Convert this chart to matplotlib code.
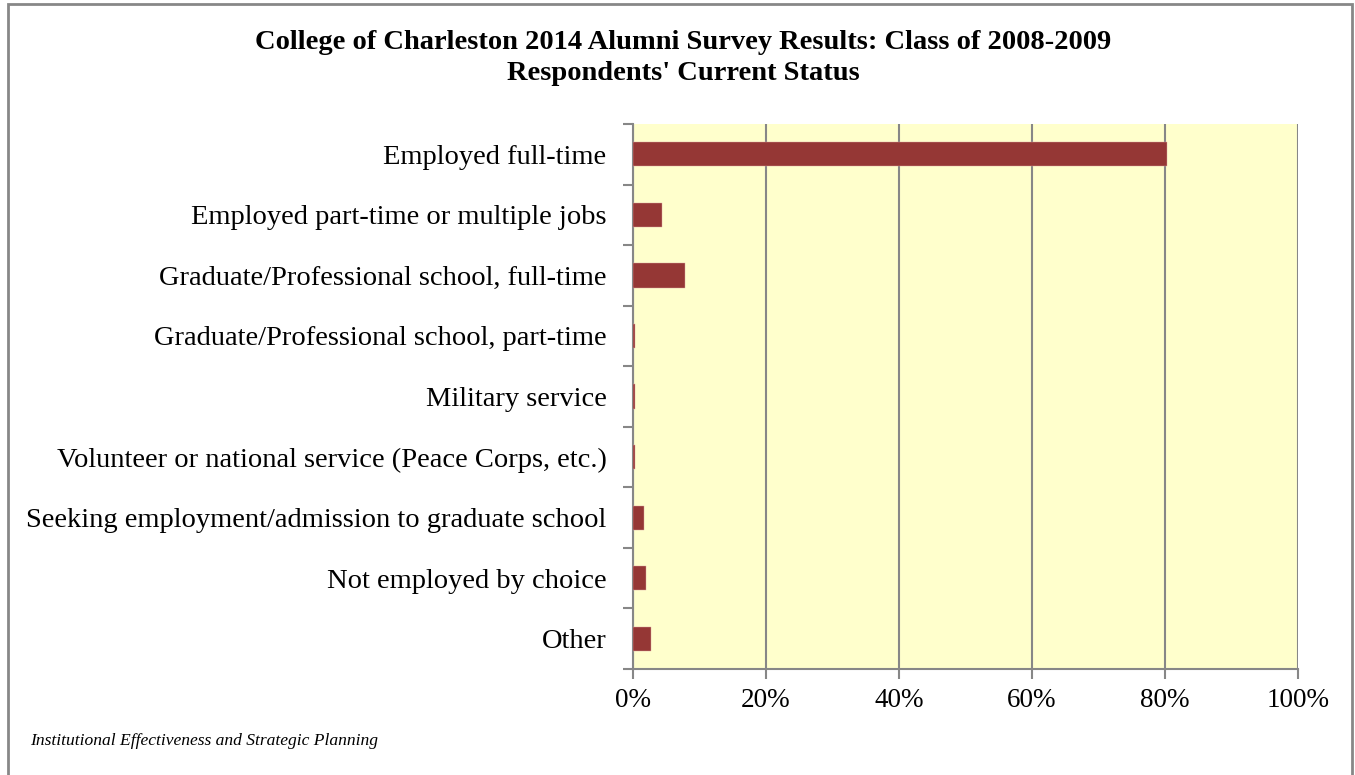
import matplotlib
matplotlib.use("Agg")
import matplotlib.pyplot as plt
import matplotlib.ticker as mticker
from matplotlib.patches import Rectangle

# data (share of respondents, %)
categories = [
    "Employed full-time",
    "Employed part-time or multiple jobs",
    "Graduate/Professional school, full-time",
    "Graduate/Professional school, part-time",
    "Military service",
    "Volunteer or national service (Peace Corps, etc.)",
    "Seeking employment/admission to graduate school",
    "Not employed by choice",
    "Other",
]
shares = [80.3, 4.4, 7.8, 0.3, 0.3, 0.3, 1.7, 2.0, 2.7]
x_ticks = [0, 20, 40, 60, 80, 100]

plt.rcParams["font.family"] = ["Liberation Serif", "DejaVu Serif"]

fig = plt.figure(figsize=(13.55, 7.75), dpi=100)
ax = fig.add_axes([633 / 1355, 1 - 669 / 775, 665 / 1355, 545 / 775])

ypos = list(range(len(categories)))
ax.barh(ypos, shares, height=0.4, color="#953735", edgecolor="#D9A3A2",
        linewidth=0.3, zorder=3)

ax.set_facecolor("#FFFFCC")
ax.set_xlim(0, 100)
ax.set_ylim(len(categories) - 0.5, -0.5)

ax.set_xticks(x_ticks)
ax.xaxis.set_major_formatter(mticker.FuncFormatter(lambda v, _: f"{int(v)}%"))
ax.grid(axis="x", color="#878787", linewidth=1.5, zorder=1)

ax.set_yticks(ypos)
ax.set_yticklabels(categories)
ax.set_yticks([i - 0.5 for i in range(len(categories) + 1)], minor=True)
ax.tick_params(axis="y", which="major", length=0, pad=19, labelsize=20.5)
ax.tick_params(axis="y", which="minor", length=7, width=1.5, color="#878787")
ax.tick_params(axis="x", length=7, width=1.5, color="#878787", labelsize=19.5, pad=7)

for side in ["top", "right"]:
    ax.spines[side].set_visible(False)
for side in ["left", "bottom"]:
    ax.spines[side].set_color("#878787")
    ax.spines[side].set_linewidth(1.5)

fig.text(683 / 1355, 1 - 58 / 775,
         "College of Charleston 2014 Alumni Survey Results: Class of 2008-2009\nRespondents' Current Status",
         ha="center", va="center", fontsize=20.5, fontweight="bold", linespacing=1.33)
fig.text(30 / 1355, 1 - 741 / 775, "Institutional Effectiveness and Strategic Planning",
         ha="left", va="center", fontsize=12.6, style="italic")

fig.patches.append(Rectangle((8 / 1355, -0.05), (1352 - 8) / 1355, 1.05 - 4 / 775,
                             transform=fig.transFigure, fill=False,
                             edgecolor="#878787", linewidth=2))

fig.savefig("out.png", dpi=100)
